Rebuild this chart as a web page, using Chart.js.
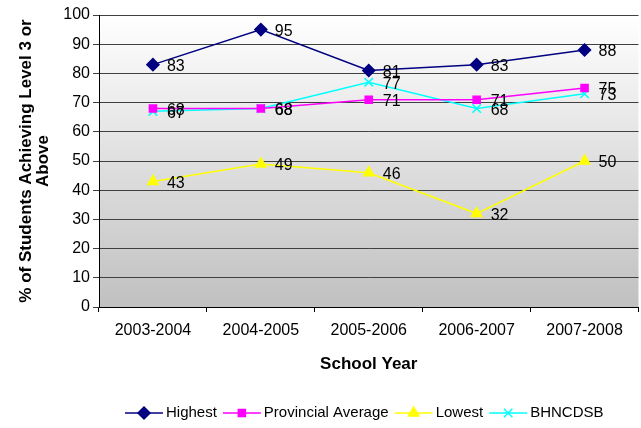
<!DOCTYPE html>
<html>
<head>
<meta charset="utf-8">
<script src="https://cdn.jsdelivr.net/npm/chart.js@4/dist/chart.umd.min.js"></script>
<style>
  html, body { margin: 0; padding: 0; overflow: hidden; background: #fff; }
  #wrap { position: relative; width: 646px; height: 428px; }
</style>
</head>
<body>
<div id="wrap"><canvas id="chart"></canvas></div>
<script>
const years = ['2003-2004', '2004-2005', '2005-2006', '2006-2007', '2007-2008'];
const highest = [83, 95, 81, 83, 88];
const provincial = [68, 68, 71, 71, 75];
const lowest = [43, 49, 46, 32, 50];
const bhncdsb = [67, 68, 77, 68, 73];
const yTicks = [0, 10, 20, 30, 40, 50, 60, 70, 80, 90, 100];

const FONT = 'Arial, "Liberation Sans", sans-serif';

// fondo degradado del área de trazado
const plotBg = {
  id: 'plotBg',
  beforeDraw(chart) {
    const { ctx, chartArea: a } = chart;
    const g = ctx.createLinearGradient(0, a.top, 0, a.bottom);
    g.addColorStop(0, '#ffffff');
    g.addColorStop(1, '#c0c0c0');
    ctx.save();
    ctx.fillStyle = g;
    ctx.fillRect(a.left, a.top, a.right - a.left, a.bottom - a.top);
    ctx.restore();
  }
};

// etiquetas de valor junto a cada punto
const valueLabels = {
  id: 'valueLabels',
  afterDatasetsDraw(chart) {
    const { ctx } = chart;
    ctx.save();
    ctx.font = '16px ' + FONT;
    ctx.fillStyle = '#000';
    ctx.textBaseline = 'middle';
    chart.data.datasets.forEach((ds, i) => {
      chart.getDatasetMeta(i).data.forEach((pt, j) => {
        ctx.fillText(String(ds.data[j]), pt.x + 14, pt.y + 2);
      });
    });
    ctx.restore();
  }
};

// leyenda con línea y marcador
const lineLegend = {
  id: 'lineLegend',
  afterDraw(chart) {
    const { ctx } = chart;
    const y = 413;
    let x = 125;
    ctx.save();
    ctx.font = '15px ' + FONT;
    ctx.textBaseline = 'middle';
    chart.data.datasets.forEach(ds => {
      ctx.strokeStyle = ds.borderColor;
      ctx.lineWidth = ds.borderWidth;
      ctx.beginPath();
      ctx.moveTo(x, y);
      ctx.lineTo(x + 38, y);
      ctx.stroke();
      ctx.fillStyle = ds.pointBackgroundColor;
      Chart.helpers.drawPoint(ctx, {
        pointStyle: ds.pointStyle,
        radius: ds.pointRadius,
        borderWidth: ds.pointBorderWidth,
        rotation: 0
      }, x + 19, y);
      ctx.fillStyle = '#000';
      ctx.fillText(ds.label, x + 41, y);
      x += 41 + ctx.measureText(ds.label).width + 6;
    });
    ctx.restore();
  }
};

function series(label, data, color, style, radius) {
  return {
    label: label,
    data: data,
    borderColor: color,
    backgroundColor: color,
    pointBackgroundColor: color,
    pointBorderColor: color,
    borderWidth: 1.5,
    pointStyle: style,
    pointRadius: radius,
    pointHoverRadius: radius,
    pointBorderWidth: 1.5,
    tension: 0
  };
}

new Chart(document.getElementById('chart'), {
  type: 'line',
  data: {
    labels: years,
    datasets: [
      series('Highest', highest, '#000080', 'rectRot', 6),
      series('Provincial Average', provincial, '#ff00ff', 'rect', 5),
      series('Lowest', lowest, '#ffff00', 'triangle', 6),
      series('BHNCDSB', bhncdsb, '#00ffff', 'crossRot', 6)
    ]
  },
  options: {
    responsive: true,
    maintainAspectRatio: false,
    animation: false,
    layout: { padding: { top: 15, right: 1, left: 0, bottom: 0 } },
    plugins: { legend: { display: false }, tooltip: { enabled: false } },
    scales: {
      x: {
        offset: true,
        grid: { offset: true, drawOnChartArea: false, tickLength: 5, color: '#000' },
        border: { color: '#000', width: 1 },
        ticks: { color: '#000', font: { family: FONT, size: 16 }, padding: 9, maxRotation: 0, autoSkip: false },
        title: {
          display: true,
          text: 'School Year',
          color: '#000',
          font: { family: FONT, size: 17, weight: 'bold' },
          padding: { top: 0, bottom: 53 }
        },
        afterFit(scale) { scale.height = 121; }
      },
      y: {
        min: 0,
        max: 100,
        afterBuildTicks(scale) { scale.ticks = yTicks.map(v => ({ value: v })); },
        grid: { color: '#404040', tickLength: 6 },
        border: { color: '#000', width: 1 },
        ticks: { color: '#000', font: { family: FONT, size: 16 }, padding: 3 },
        title: {
          display: true,
          text: ['% of Students Achieving Level 3 or', 'Above'],
          color: '#000',
          font: { family: FONT, size: 17, weight: 'bold', lineHeight: 1.0 },
          padding: { top: 18, bottom: 0 }
        },
        afterFit(scale) { scale.width = 99; }
      }
    }
  },
  plugins: [plotBg, valueLabels, lineLegend]
});
</script>
</body>
</html>
